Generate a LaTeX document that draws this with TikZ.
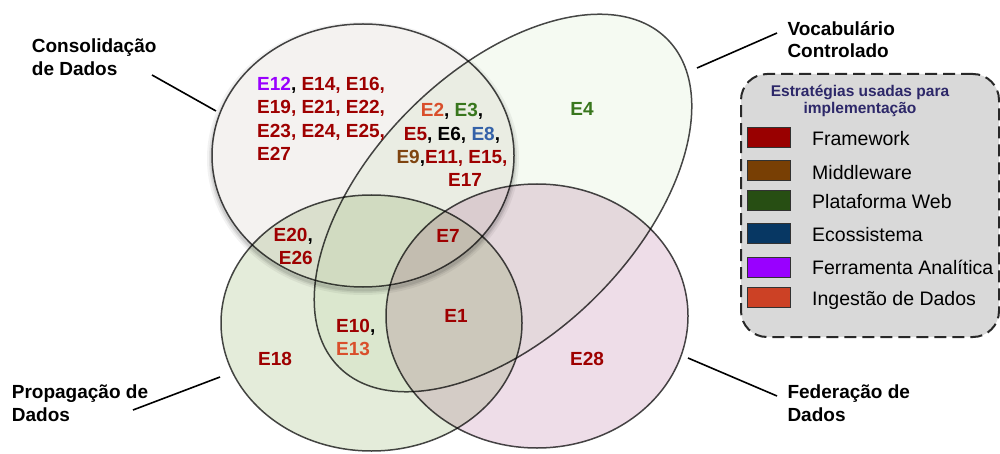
\documentclass[tikz,border=0pt]{standalone}
\usepackage{fontspec}
\setmainfont{Liberation Sans}
\usetikzlibrary{shapes.geometric}

% strategy colours
\definecolor{fw}{HTML}{990000}
\definecolor{mw}{HTML}{783F04}
\definecolor{pw}{HTML}{274E13}
\definecolor{eco}{HTML}{073763}
\definecolor{fa}{HTML}{9900FF}
\definecolor{ing}{HTML}{CC4125}
% label tints
\definecolor{txtred}{HTML}{9E0000}
\definecolor{txtgreen}{HTML}{38761D}
\definecolor{txtblue}{HTML}{3462A8}
\definecolor{txting}{HTML}{D94F2B}
\definecolor{txtbrown}{HTML}{7F4410}
% set fills
\definecolor{consfill}{RGB}{244,242,240}
\definecolor{vocfill}{RGB}{245,250,242}
\definecolor{propfill}{RGB}{228,236,218}
\definecolor{fedfill}{RGB}{238,221,232}
\definecolor{setline}{RGB}{72,72,72}
\definecolor{legfill}{RGB}{217,217,217}
\definecolor{legline}{RGB}{40,40,40}
\definecolor{legtitle}{RGB}{45,40,105}
\definecolor{swline}{RGB}{50,50,50}

\begin{document}
\begin{tikzpicture}[x=1pt,y=-1pt,
  setshape/.style={ellipse, draw=setline, line width=1.5pt, inner sep=0pt},
  % multi-line labels are placed by the baseline of their last line
  catlabel/.style={font=\fontsize{19}{23.3}\selectfont\bfseries, inner sep=0pt, align=left, anchor=base west},
  elabel/.style={font=\fontsize{19}{23.3}\selectfont\bfseries, text=txtred, inner sep=0pt},
  leader/.style={draw=black, line width=1.6pt},
  swatch/.style={draw=swline, line width=0.9pt, minimum width=43pt, minimum height=20pt, inner sep=0pt},
  legtext/.style={font=\fontsize{19.5}{23}\selectfont, inner sep=0pt, anchor=base west}
]
\useasboundingbox (0,0) rectangle (1000,454);

% the four sets, multiplied together where they overlap
\begin{scope}[blend group=multiply]
  \node[setshape, fill=vocfill, minimum width=464pt, minimum height=264pt, rotate=45] (voc) at (503,203) {};
  \node[setshape, fill=propfill, minimum width=301pt, minimum height=256pt] (prop) at (371.5,323) {};
  \node[setshape, fill=fedfill, minimum width=302pt, minimum height=264pt] (fed) at (537,316) {};
  % soft shadow round the consolidation set
  \begin{scope}[even odd rule]
    \clip (-10,-10) rectangle (1010,464) (363,155.5) ellipse [x radius=151pt, y radius=131.5pt];
    \foreach \w/\o in {10/0.05, 6/0.07, 3/0.09}
      \draw[line width=\w pt, black, draw opacity=\o] (363,158.5) ellipse [x radius=151pt, y radius=131.5pt];
  \end{scope}
  \node[setshape, fill=consfill, minimum width=302pt, minimum height=263pt] (cons) at (363,155.5) {};
\end{scope}

% set names and their leader lines
\node[catlabel] (tcons) at (31.7,76) {Consolidação\\de Dados};
\node[catlabel] (tprop) at (11.7,421.7) {Propagação de\\Dados};
\node[catlabel, font=\fontsize{19}{22}\selectfont\bfseries] (tvoc) at (787.3,57.5) {Vocabulário\\Controlado};
\node[catlabel] (tfed) at (787.3,421.7) {Federação de\\Dados};

\coordinate (consA) at (152,75);   \coordinate (consB) at (216,111);
\coordinate (propA) at (133,410);  \coordinate (propB) at (220,377);
\coordinate (vocA) at (777,33);    \coordinate (vocB) at (697,68);
\coordinate (fedA) at (777,396);   \coordinate (fedB) at (688,358);
\draw[leader] (consA) -- (consB);
\draw[leader] (propA) -- (propB);
\draw[leader] (vocA) -- (vocB);
\draw[leader] (fedA) -- (fedB);

% studies placed in the regions
\node[elabel, font=\fontsize{19}{23.5}\selectfont\bfseries, align=left, anchor=base west] (ga) at (257,160.7)
  {{\color{fa}E12}{\color{black},} E14, E16,\\E19, E21, E22,\\E23, E24, E25,\\E27};
\node[elabel, align=center, anchor=base] (gb) at (452,186.7)
  {{\color{txting}E2}{\color{black},} {\color{txtgreen}E3}{\color{black},}\\
   E5{\color{black},} {\color{black}E6,} {\color{txtblue}E8}{\color{black},}\\
   {\color{txtbrown}E9}{\color{black},}E11, E15,\\
   \hspace*{26pt}E17};
\node[elabel, text=txtgreen, anchor=base] (e4) at (582,116) {E4};
\node[elabel, font=\fontsize{19}{22.3}\selectfont\bfseries, align=right, anchor=base east] (gc) at (313,264) {E20{\color{black},}\\E26};
\node[elabel, anchor=base] (e7) at (448,242) {E7};
\node[elabel, anchor=base] (e1) at (456,322.7) {E1};
\node[elabel, font=\fontsize{19}{23}\selectfont\bfseries, align=left, anchor=base west] (gd) at (336,355.7) {E10{\color{black},}\\{\color{txting}E13}};
\node[elabel, anchor=base] (e18) at (275,365.7) {E18};
\node[elabel, anchor=base] (e28) at (587,365.7) {E28};

% legend
\node[draw=legline, line width=2pt, dash pattern=on 12pt off 6pt, fill=legfill,
      rounded corners=26pt, minimum width=258pt, minimum height=263pt, inner sep=0pt] (legend) at (870,205.5) {};
\node[font=\fontsize{15.5}{17}\selectfont\bfseries, text=legtitle, align=center, anchor=base, inner sep=0pt]
  (legtitle) at (860,114) {Estratégias usadas para\\implementação};

\node[swatch, fill=fw]  (s1) at (768.7,137.3) {};
\node[swatch, fill=mw]  (s2) at (768.7,170.7) {};
\node[swatch, fill=pw]  (s3) at (768.7,200.7) {};
\node[swatch, fill=eco] (s4) at (768.7,233.3) {};
\node[swatch, fill=fa]  (s5) at (768.7,267.3) {};
\node[swatch, fill=ing] (s6) at (768.7,297.3) {};

\node[legtext] (l1) at (812,146)   {Framework};
\node[legtext] (l2) at (812,179.3) {Middleware};
\node[legtext] (l3) at (812,208.3) {Plataforma Web};
\node[legtext] (l4) at (812,241)   {Ecossistema};
\node[legtext] (l5) at (812,274)   {Ferramenta Analítica};
\node[legtext] (l6) at (812,305)   {Ingestão de Dados};
\end{tikzpicture}
\end{document}
